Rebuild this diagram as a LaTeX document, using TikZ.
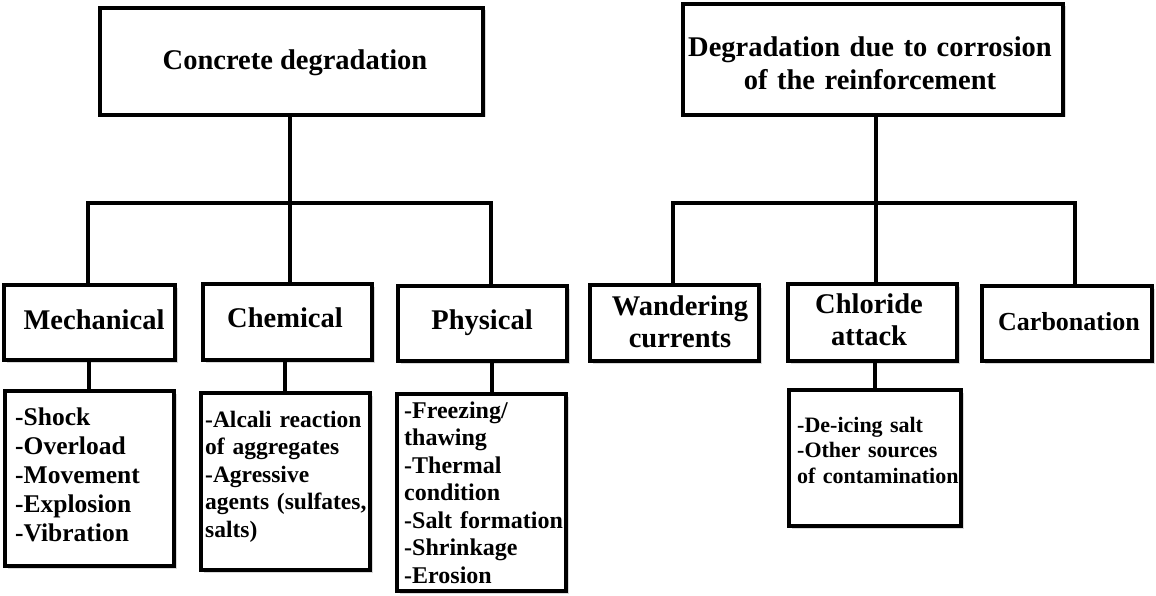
\documentclass[tikz,border=0pt]{standalone}
\usepackage{fontspec}
\setmainfont{Liberation Serif}
\usetikzlibrary{shadows}
\begin{document}
\begin{tikzpicture}[x=1pt,y=-1pt,
  box/.style={draw, line width=4pt, fill=white, inner sep=0pt, outer sep=0pt, anchor=north west,
    drop shadow={shadow xshift=2.5pt, shadow yshift=-2.5pt, opacity=0.3}},
  link/.style={line width=4pt, line cap=rect},
  ttl/.style={font=\bfseries\fontsize{28.5}{33}\selectfont, inner sep=0pt, anchor=base, align=center},
  lvl/.style={font=\bfseries\fontsize{28.5}{32}\selectfont, inner sep=0pt, anchor=base, align=center},
  det/.style={inner sep=0pt, anchor=base west, align=left, text width=175pt}]
\useasboundingbox (0,0) rectangle (1156,596);
% boxes
\node[box, minimum width=383pt, minimum height=107pt] (cd) at (100,8) {};
\node[box, minimum width=380pt, minimum height=111pt] (cr) at (683,4) {};
\node[box, minimum width=171pt, minimum height=75pt] (mech) at (4,285) {};
\node[box, minimum width=169pt, minimum height=76pt] (chem) at (203,284) {};
\node[box, minimum width=169pt, minimum height=75pt] (phys) at (398,286) {};
\node[box, minimum width=169pt, minimum height=175pt] (mechd) at (5,391) {};
\node[box, minimum width=169pt, minimum height=177pt] (chemd) at (201,393) {};
\node[box, minimum width=169pt, minimum height=197pt] (physd) at (397,394) {};
\node[box, minimum width=169pt, minimum height=76pt] (wand) at (590,285) {};
\node[box, minimum width=169pt, minimum height=77pt] (chlor) at (788,284) {};
\node[box, minimum width=170pt, minimum height=75pt] (carb) at (982,286) {};
\node[box, minimum width=172pt, minimum height=136pt] (chlord) at (789,390) {};
% junction coordinates
\coordinate (jL) at (290,203);
\coordinate (bL1) at (88,203);
\coordinate (bL3) at (491,203);
\coordinate (dL1) at (89,0);
\coordinate (dL2) at (285,0);
\coordinate (dL3) at (492,0);
\coordinate (jR) at (876,203);
\coordinate (bR1) at (673,203);
\coordinate (bR3) at (1075,203);
\coordinate (dR2) at (875,0);
% connectors left
\draw[link] (cd.south -| jL) -- (jL);
\draw[link] (mech.north -| bL1) -- (bL1) -- (bL3) -- (phys.north -| bL3);
\draw[link] (jL) -- (chem.north -| jL);
\draw[link] (mech.south -| dL1) -- (mechd.north -| dL1);
\draw[link] (chem.south -| dL2) -- (chemd.north -| dL2);
\draw[link] (phys.south -| dL3) -- (physd.north -| dL3);
% connectors right
\draw[link] (cr.south -| jR) -- (jR);
\draw[link] (wand.north -| bR1) -- (bR1) -- (bR3) -- (carb.north -| bR3);
\draw[link] (jR) -- (chlor.north -| jR);
\draw[link] (chlor.south -| dR2) -- (chlord.north -| dR2);
% texts
\node[ttl] (cdt) at (295,70) {Concrete degradation};
\node[ttl, text width=420pt] (crt) at (870,57) {Degradation due to corrosion\\of the reinforcement};
\node[lvl] (mecht) at (94,329) {Mechanical};
\node[lvl] (chemt) at (285,327) {Chemical};
\node[lvl] (physt) at (482,329) {Physical};
\node[lvl, text width=170pt] (wandt) at (680,315) {Wandering\\currents};
\node[lvl, text width=170pt] (chlort) at (869,313) {Chloride\\attack};
\node[lvl, font=\bfseries\fontsize{26}{30}\selectfont] (carbt) at (1069,330) {Carbonation};
\node[det, font=\bfseries\fontsize{25.5}{29}\selectfont] (mechdt) at (15,425)
  {-Shock\\-Overload\\-Movement\\-Explosion\\-Vibration};
\node[det, font=\bfseries\fontsize{23.5}{27.5}\selectfont] (chemdt) at (205,427)
  {-Alcali reaction\\of aggregates\\-Agressive\\agents (sulfates,\\salts)};
\node[det, font=\bfseries\fontsize{24}{27.5}\selectfont] (physdt) at (404,418)
  {-Freezing/\\thawing\\-Thermal\\condition\\-Salt formation\\-Shrinkage\\-Erosion};
\node[det, font=\bfseries\fontsize{22}{25.5}\selectfont] (chlordt) at (797,432)
  {-De-icing salt\\-Other sources\\of contamination};
\end{tikzpicture}
\end{document}
